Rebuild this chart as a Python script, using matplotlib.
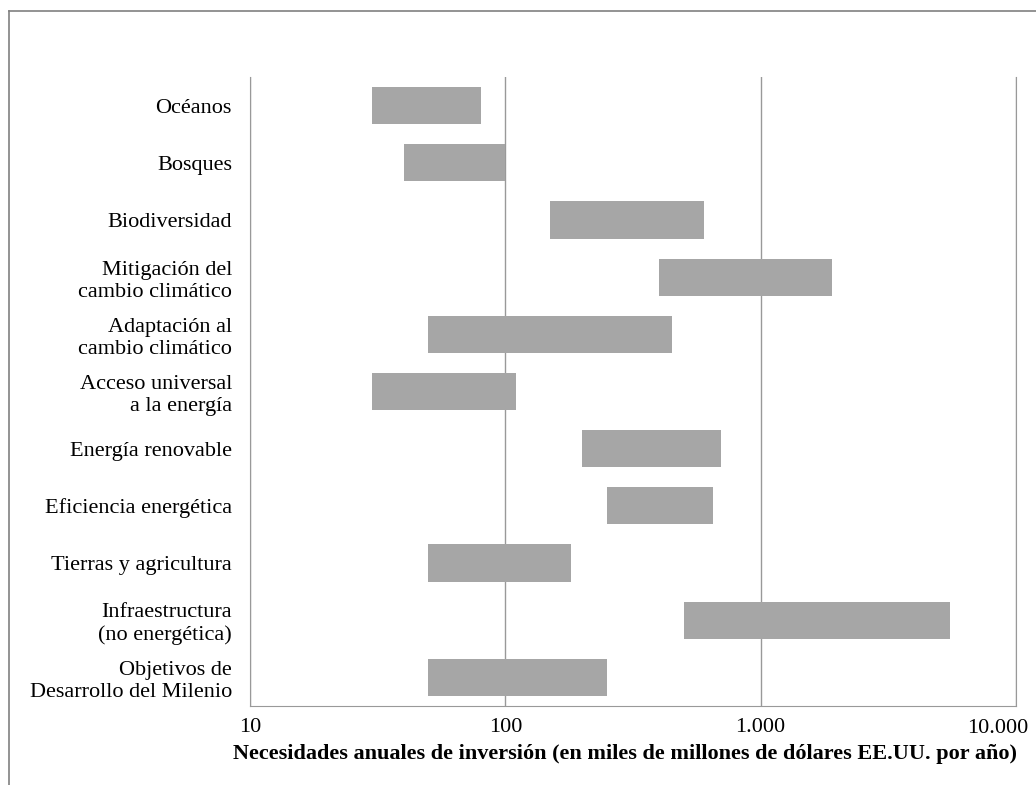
import numpy as np
import matplotlib.pyplot as plt
from matplotlib.lines import Line2D
from matplotlib.ticker import FixedLocator, FixedFormatter, NullLocator

# Datos (miles de millones de USD por año)
categorias = ['Océanos', 'Bosques', 'Biodiversidad',
              'Mitigación del\ncambio climático',
              'Adaptación al\ncambio climático',
              'Acceso universal\na la energía',
              'Energía renovable', 'Eficiencia energética',
              'Tierras y agricultura',
              'Infraestructura\n(no energética)',
              'Objetivos de\nDesarrollo del Milenio']
minimo = [30, 40, 150, 400, 50, 30, 200, 250, 50, 500, 50]
maximo = [80, 100, 600, 1900, 450, 110, 700, 650, 180, 5500, 250]

ticks_x = [10, 100, 1000, 10000]
etiquetas_x = ['10', '100', '1.000', '10.000']

plt.rcParams['font.family'] = ['Liberation Serif', 'DejaVu Serif']
fs = 16

fig = plt.figure(figsize=(10.36, 7.85), dpi=100)
ax = fig.add_axes([250/1036, 1 - 706/785, (1016-250)/1036, (706-77)/785])

y = np.arange(len(categorias))
ancho = np.array(maximo) - np.array(minimo)
ax.barh(y, ancho, left=minimo, height=0.65, color='#a6a6a6', zorder=2)

ax.set_xscale('log')
ax.set_xlim(10, 10000)
ax.set_ylim(len(categorias) - 0.5, -0.5)
ax.xaxis.set_major_locator(FixedLocator(ticks_x))
# la última etiqueta se pone aparte, ajustada al borde derecho
ax.xaxis.set_major_formatter(FixedFormatter(etiquetas_x[:-1] + ['']))
ax.xaxis.set_minor_locator(NullLocator())
ax.set_yticks(y)
ax.set_yticklabels(categorias, fontsize=fs, linespacing=1.22)
ax.tick_params(axis='both', length=0, labelsize=fs)
ax.tick_params(axis='y', pad=13)
ax.tick_params(axis='x', pad=9)
ax.text(1.016, -0.021, etiquetas_x[-1], transform=ax.transAxes, ha='right', va='top', fontsize=fs)

ax.grid(axis='x', color='#999999', linewidth=1, zorder=1)
for lado in ['left', 'bottom', 'right']:
    ax.spines[lado].set_color('#999999')
ax.spines['top'].set_visible(False)

ax.set_xlabel('Necesidades anuales de inversión (en miles de millones de dólares EE.UU. por año)',
              fontsize=fs, fontweight='bold', labelpad=5)
ax.xaxis.label.set_x(0.49)

# marco exterior
fig.add_artist(Line2D([9/1036, 9/1036], [0, 1 - 11/785], color='#808080', linewidth=1.2))
fig.add_artist(Line2D([9/1036, 1], [1 - 11/785, 1 - 11/785], color='#808080', linewidth=1.2))

fig.savefig('out.png', dpi=100)
